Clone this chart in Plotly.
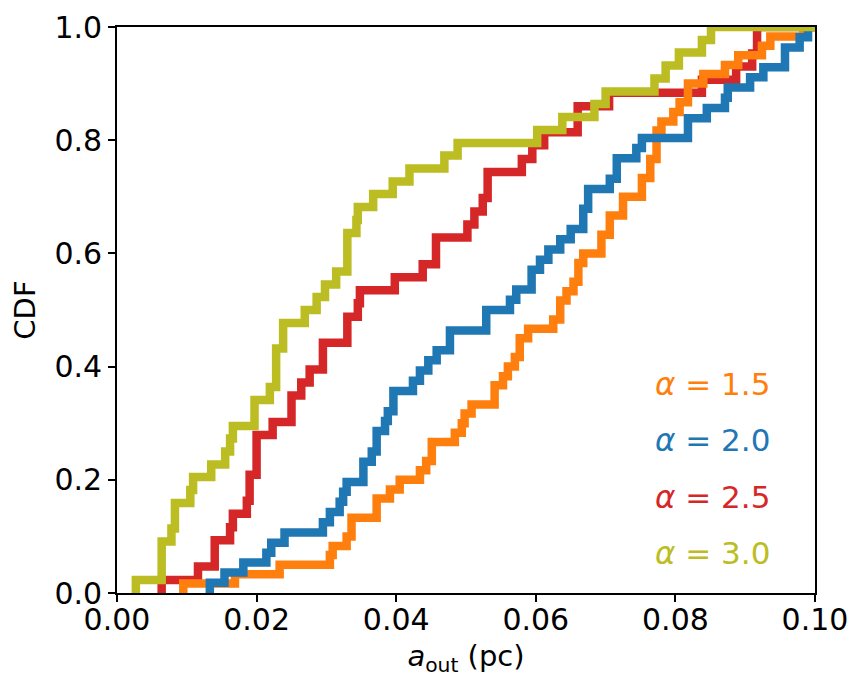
import plotly.graph_objects as go

# ---- data (empirical CDF step corners read from the reference) ----
# alpha = 1.5 (orange)
a15_x = [0.0095, 0.0095, 0.0169, 0.0233, 0.0305, 0.0309, 0.0329, 0.0336, 0.0372, 0.0391,
         0.0405, 0.0434, 0.0443, 0.0451, 0.0484, 0.0494, 0.0498, 0.0508, 0.0541, 0.0553,
         0.0560, 0.0570, 0.0577, 0.0589, 0.0625, 0.0635, 0.0644, 0.0654, 0.0661, 0.0668,
         0.0694, 0.0706, 0.0725, 0.0752, 0.0764, 0.0773, 0.0780, 0.0797, 0.0806, 0.0818,
         0.0840, 0.0871, 0.0890, 0.0924, 0.0936, 0.0983, 0.1050]
a15_y = [0.0, 0.017, 0.033, 0.050, 0.067, 0.083, 0.100, 0.133, 0.167, 0.183,
         0.200, 0.217, 0.233, 0.267, 0.283, 0.300, 0.317, 0.333, 0.367, 0.383,
         0.400, 0.417, 0.450, 0.467, 0.483, 0.517, 0.533, 0.550, 0.583, 0.600,
         0.633, 0.667, 0.700, 0.733, 0.767, 0.817, 0.833, 0.850, 0.867, 0.900,
         0.917, 0.933, 0.950, 0.967, 0.983, 1.000, 1.000]

# alpha = 2.0 (blue)
a20_x = [0.0133, 0.0133, 0.0154, 0.0181, 0.0214, 0.0221, 0.0240, 0.0295, 0.0305, 0.0319,
         0.0324, 0.0329, 0.0353, 0.0365, 0.0372, 0.0384, 0.0388, 0.0396, 0.0424, 0.0434,
         0.0446, 0.0458, 0.0477, 0.0529, 0.0563, 0.0572, 0.0594, 0.0606, 0.0618, 0.0635,
         0.0650, 0.0668, 0.0675, 0.0706, 0.0716, 0.0744, 0.0752, 0.0818, 0.0845, 0.0871,
         0.0875, 0.0907, 0.0926, 0.0957, 0.0978, 0.0990, 0.1050]
a20_y = [0.0, 0.018, 0.036, 0.054, 0.071, 0.089, 0.107, 0.125, 0.143, 0.161,
         0.179, 0.196, 0.232, 0.250, 0.286, 0.304, 0.321, 0.357, 0.375, 0.393,
         0.411, 0.429, 0.464, 0.500, 0.518, 0.536, 0.571, 0.589, 0.607, 0.625,
         0.643, 0.679, 0.714, 0.732, 0.768, 0.786, 0.804, 0.839, 0.857, 0.875,
         0.893, 0.911, 0.929, 0.964, 0.982, 1.000, 1.000]

# alpha = 2.5 (red)
a25_x = [0.0064, 0.0064, 0.0116, 0.0140, 0.0162, 0.0166, 0.0186, 0.0190, 0.0200, 0.0223,
         0.0250, 0.0264, 0.0276, 0.0295, 0.0330, 0.0345, 0.0348, 0.0398, 0.0438, 0.0457,
         0.0502, 0.0512, 0.0524, 0.0531, 0.0580, 0.0595, 0.0612, 0.0660, 0.0705, 0.0838,
         0.0887, 0.0910, 0.0917, 0.1050]
a25_y = [0.0, 0.023, 0.047, 0.093, 0.116, 0.140, 0.163, 0.209, 0.279, 0.302,
         0.349, 0.372, 0.395, 0.442, 0.488, 0.512, 0.535, 0.558, 0.581, 0.628,
         0.651, 0.674, 0.698, 0.744, 0.767, 0.791, 0.814, 0.860, 0.884, 0.907,
         0.930, 0.953, 1.000, 1.000]

# alpha = 3.0 (olive)
a30_x = [0.0027, 0.0027, 0.0064, 0.0078, 0.0083, 0.0105, 0.0109, 0.0135, 0.0155, 0.0162,
         0.0166, 0.0197, 0.0219, 0.0228, 0.0238, 0.0269, 0.0286, 0.0298, 0.0314, 0.0330,
         0.0343, 0.0345, 0.0367, 0.0395, 0.0419, 0.0469, 0.0488, 0.0602, 0.0638, 0.0684,
         0.0700, 0.0770, 0.0786, 0.0805, 0.0838, 0.0851, 0.1050]
a30_y = [0.0, 0.023, 0.091, 0.114, 0.159, 0.182, 0.205, 0.227, 0.250, 0.273,
         0.295, 0.341, 0.364, 0.432, 0.477, 0.500, 0.523, 0.545, 0.568, 0.636,
         0.659, 0.682, 0.705, 0.727, 0.750, 0.773, 0.795, 0.818, 0.841, 0.864,
         0.886, 0.909, 0.932, 0.955, 0.977, 1.000, 1.000]

labels = ["1.5", "2.0", "2.5", "3.0"]
colors = {"1.5": "#ff7f0e", "2.0": "#1f77b4", "2.5": "#d62728", "3.0": "#bcbd22"}
series = {"1.5": (a15_x, a15_y), "2.0": (a20_x, a20_y),
          "2.5": (a25_x, a25_y), "3.0": (a30_x, a30_y)}
draw_order = ["2.5", "1.5", "2.0", "3.0"]
label_y = [0.37, 0.27, 0.17, 0.07]

FONT = "DejaVu Sans"

fig = go.Figure()
for key in draw_order:
    xs, ys = series[key]
    fig.add_trace(go.Scatter(x=xs, y=ys, mode="lines", line_shape="hv",
                             line=dict(color=colors[key], width=8.5),
                             showlegend=False, hoverinfo="skip"))

for lab, yy in zip(labels, label_y):
    fig.add_annotation(x=0.0938, y=yy, xref="x", yref="y", xanchor="right", yanchor="middle",
                       text="<i>α</i> = " + lab, showarrow=False,
                       font=dict(family=FONT, size=31, color=colors[lab]))

axis_common = dict(showline=True, linecolor="black", linewidth=1.6, mirror=True,
                   ticks="outside", ticklen=7, tickwidth=1.6, tickcolor="black",
                   showgrid=False, zeroline=False,
                   tickfont=dict(family=FONT, size=30, color="black"))

fig.update_xaxes(range=[0, 0.1], dtick=0.02, tick0=0, tickformat=".2f",
                 ticklabelstandoff=-8,
                 title=dict(text="<i>a</i><sub>out</sub> (pc)", standoff=10,
                            font=dict(family=FONT, size=29, color="black")),
                 **axis_common)
fig.update_yaxes(range=[0, 1], dtick=0.2, tick0=0, tickformat=".1f",
                 title=dict(text="CDF", standoff=10,
                            font=dict(family=FONT, size=29, color="black")),
                 **axis_common)

fig.update_layout(width=866, height=695, plot_bgcolor="white", paper_bgcolor="white",
                  margin=dict(l=117, r=51, t=27, b=102, autoexpand=False),
                  font=dict(family=FONT))

fig.write_html("out.html")
